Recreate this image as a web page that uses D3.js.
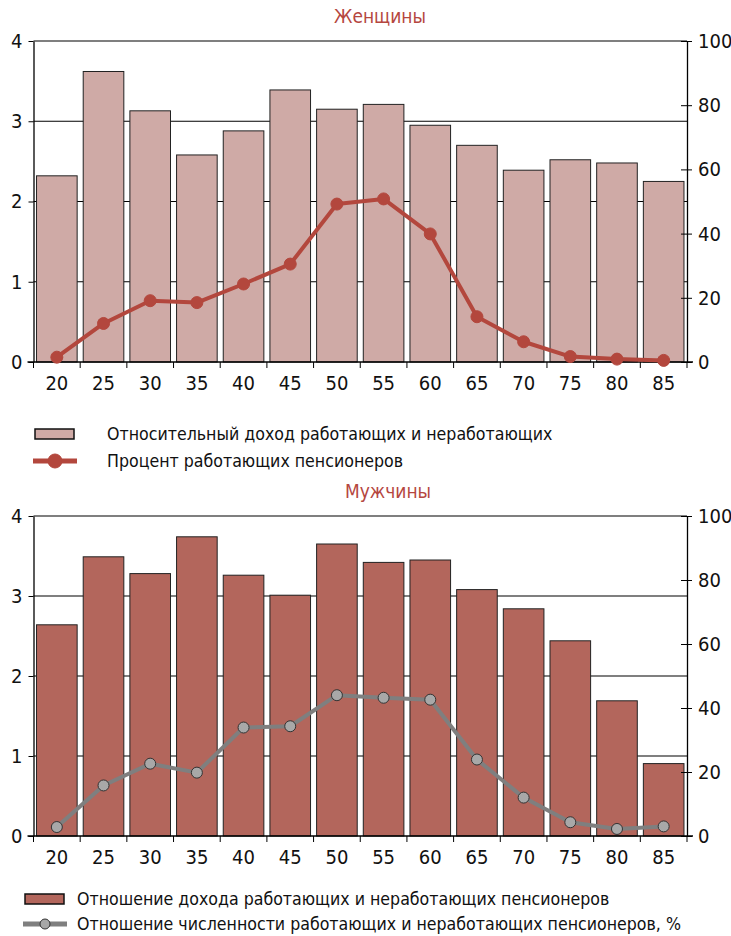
<!DOCTYPE html>
<html>
<head>
<meta charset="utf-8">
<script src="https://cdn.jsdelivr.net/npm/d3@7"></script>
<style>
    body { margin: 0; background: #fff; }
    svg text { font-family: "Liberation Sans Narrow", "Arial Narrow", "DejaVu Sans Condensed", sans-serif; fill: #111; }
</style>
</head>
<body>
<svg id="chart" width="731" height="936"></svg>
<script>
    var ages = ['20', '25', '30', '35', '40', '45', '50', '55', '60', '65', '70', '75', '80', '85'];
    var leftTicks = [0, 1, 2, 3, 4];
    var rightTicks = [0, 20, 40, 60, 80, 100];

    // Женщины
    var womenIncome = [2.32, 3.62, 3.13, 2.58, 2.88, 3.39, 3.15, 3.21, 2.95, 2.70, 2.39, 2.52, 2.48, 2.25];
    var womenWorking = [1.5, 12.0, 19.1, 18.5, 24.3, 30.5, 49.2, 50.8, 39.9, 14.1, 6.3, 1.7, 0.9, 0.5];

    // Мужчины
    var menIncome = [2.64, 3.49, 3.28, 3.74, 3.26, 3.01, 3.65, 3.42, 3.45, 3.08, 2.84, 2.44, 1.69, 0.905];
    var menWorking = [2.8, 15.8, 22.6, 19.8, 33.9, 34.3, 44.0, 43.2, 42.6, 23.9, 12.0, 4.3, 2.2, 3.0];

    var svg = d3.select('#chart');
    var plotLeft = 33.5, plotRight = 687;

    function drawPanel(o) {
        var g = svg.append('g');

        var x = d3.scaleBand().domain(ages).range([plotLeft, plotRight])
            .paddingInner(0.13).paddingOuter(0.065);
        var yL = d3.scaleLinear().domain([0, 4]).range([o.bottom, o.top]);
        var yR = d3.scaleLinear().domain([0, 100]).range([o.bottom, o.top]);

        g.append('text')
            .attr('x', o.titleX).attr('y', o.top - 18)
            .attr('text-anchor', 'middle')
            .style('font-size', '19px')
            .style('fill', '#b5473f')
            .text(o.title);

        // gridlines (behind bars)
        g.selectAll('.grid').data(leftTicks.slice(1)).enter().append('line')
            .attr('x1', plotLeft).attr('x2', plotRight)
            .attr('y1', function(d) { return yL(d); })
            .attr('y2', function(d) { return yL(d); })
            .attr('stroke', '#000').attr('stroke-width', 1.2);

        g.selectAll('.bar').data(o.income).enter().append('rect')
            .attr('x', function(d, i) { return x(ages[i]); })
            .attr('y', function(d) { return yL(d); })
            .attr('width', x.bandwidth())
            .attr('height', function(d) { return yL(0) - yL(d); })
            .attr('fill', o.barColor)
            .attr('stroke', '#222').attr('stroke-width', 1);

        // left axis
        var axL = g.append('g').attr('transform', 'translate(' + plotLeft + ',0)')
            .call(d3.axisLeft(yL).tickValues(leftTicks).tickFormat(d3.format('d'))
                .tickSizeInner(5).tickSizeOuter(0).tickPadding(6));
        axL.select('.domain').attr('stroke-width', 1.3);
        axL.selectAll('text').style('font-size', '20px');

        // right axis, ticks cross the line
        var axR = g.append('g').attr('transform', 'translate(' + plotRight + ',0)')
            .call(d3.axisRight(yR).tickValues(rightTicks).tickFormat(d3.format('d'))
                .tickSizeInner(5).tickSizeOuter(0).tickPadding(6));
        axR.select('.domain').attr('stroke-width', 1.3);
        axR.selectAll('.tick line').attr('x1', -6);
        axR.selectAll('text').style('font-size', '20px');

        // bottom axis: labels under bars, ticks at band edges
        var axB = g.append('g').attr('transform', 'translate(0,' + o.bottom + ')')
            .call(d3.axisBottom(x).tickSize(0).tickPadding(14));
        axB.select('.domain').remove();
        axB.selectAll('text').style('font-size', '20px');
        g.append('line')
            .attr('x1', plotLeft - 6).attr('x2', plotRight + 6)
            .attr('y1', o.bottom).attr('y2', o.bottom)
            .attr('stroke', '#000').attr('stroke-width', 1.5);
        g.selectAll('.xtick').data(d3.range(ages.length + 1)).enter().append('line')
            .attr('x1', function(i) { return plotLeft + i * x.step(); })
            .attr('x2', function(i) { return plotLeft + i * x.step(); })
            .attr('y1', o.bottom).attr('y2', o.bottom + 6)
            .attr('stroke', '#000').attr('stroke-width', 1);

        var line = d3.line()
            .x(function(d, i) { return x(ages[i]) + x.bandwidth() / 2; })
            .y(function(d) { return yR(d); });
        g.append('path').datum(o.working)
            .attr('d', line)
            .attr('fill', 'none')
            .attr('stroke', o.lineColor).attr('stroke-width', 4)
            .attr('stroke-linejoin', 'round');
        g.selectAll('.dot').data(o.working).enter().append('circle')
            .attr('cx', function(d, i) { return x(ages[i]) + x.bandwidth() / 2; })
            .attr('cy', function(d) { return yR(d); })
            .attr('r', o.dotR)
            .attr('fill', o.dotFill)
            .attr('stroke', o.dotStroke).attr('stroke-width', 1);

        // legend
        var lg = g.append('g');
        lg.append('rect')
            .attr('x', o.legX).attr('y', o.legY1 - 5)
            .attr('width', 39).attr('height', 10)
            .attr('fill', o.barColor).attr('stroke', '#111').attr('stroke-width', 1.5);
        lg.append('text')
            .attr('x', o.legTextX).attr('y', o.legY1).attr('dy', '0.35em')
            .style('font-size', '17.6px')
            .text(o.legend1);
        lg.append('line')
            .attr('x1', o.legX - 2).attr('x2', o.legX + 42)
            .attr('y1', o.legY2).attr('y2', o.legY2)
            .attr('stroke', o.lineColor).attr('stroke-width', 5);
        lg.append('circle')
            .attr('cx', o.legX + 20).attr('cy', o.legY2)
            .attr('r', o.legDotR)
            .attr('fill', o.dotFill)
            .attr('stroke', o.dotStroke).attr('stroke-width', 1);
        lg.append('text')
            .attr('x', o.legTextX).attr('y', o.legY2).attr('dy', '0.35em')
            .style('font-size', '17.6px')
            .text(o.legend2);
    }

    drawPanel({
        title: 'Женщины', titleX: 380,
        top: 41, bottom: 362,
        income: womenIncome, working: womenWorking,
        barColor: '#cfaaa6', lineColor: '#b3473d',
        dotR: 6, dotFill: '#b3473d', dotStroke: '#b3473d',
        legX: 35, legY1: 434, legY2: 461, legTextX: 107, legDotR: 7,
        legend1: 'Относительный доход работающих и неработающих',
        legend2: 'Процент работающих пенсионеров'
    });

    drawPanel({
        title: 'Мужчины', titleX: 388,
        top: 516, bottom: 836,
        income: menIncome, working: menWorking,
        barColor: '#b3665c', lineColor: '#7f7f7f',
        dotR: 5.5, dotFill: '#a8a8a8', dotStroke: '#333',
        legX: 25, legY1: 899, legY2: 924, legTextX: 77, legDotR: 5,
        legend1: 'Отношение дохода работающих и неработающих пенсионеров',
        legend2: 'Отношение численности работающих и неработающих пенсионеров, %'
    });
</script>
</body>
</html>
